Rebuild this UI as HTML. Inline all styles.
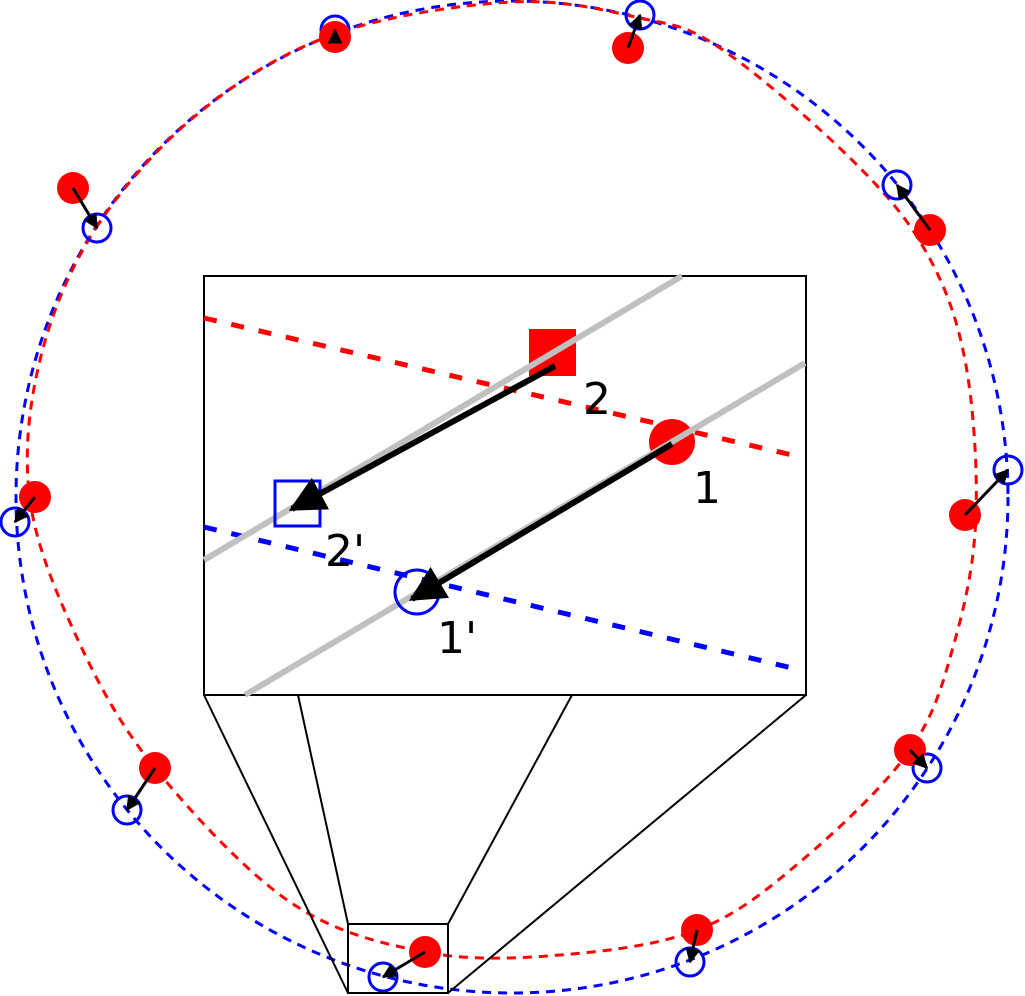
<!DOCTYPE html>
<html><head><meta charset="utf-8"><style>
html,body{margin:0;padding:0;background:#fff;}
svg{display:block;}
text{font-family:"DejaVu Sans","Liberation Sans",sans-serif;font-size:44px;fill:#000;}
</style></head><body>
<svg id="s" width="1025" height="996" viewBox="0 0 1025 996" xmlns="http://www.w3.org/2000/svg">
<defs>
<marker id="ah" viewBox="0 0 10 10" refX="9" refY="5" markerWidth="5" markerHeight="5" orient="auto" markerUnits="strokeWidth">
<path d="M0,0 L10,5 L0,10 z" fill="#000"/></marker>
<marker id="ahb" viewBox="0 0 10 10" refX="9" refY="5" markerWidth="6" markerHeight="6" orient="auto" markerUnits="strokeWidth">
<path d="M0,0 L10,5 L0,10 z" fill="#000"/></marker>
</defs>
<circle cx="512" cy="497" r="496" fill="none" stroke="#00f" stroke-width="3" stroke-dasharray="9 7"/>
<path id="red" fill="none" stroke="#f00" stroke-width="3" stroke-dasharray="9 7"/>
<g id="pts"></g>
<!-- inset -->
<rect x="204" y="276" width="602" height="419" fill="#fff" stroke="#000" stroke-width="2"/>
<line x1="204" y1="318" x2="792" y2="455" stroke="#f00" stroke-width="5" stroke-dasharray="13 15"/>
<line x1="204" y1="527" x2="792" y2="668" stroke="#00f" stroke-width="5" stroke-dasharray="13 15"/>
<rect x="529" y="329" width="47" height="47" fill="#f00"/>
<circle cx="672" cy="442" r="23" fill="#f00"/>
<line x1="245" y1="695" x2="805" y2="363" stroke="#c0c0c0" stroke-width="6"/>
<line x1="204" y1="560" x2="682" y2="276" stroke="#c0c0c0" stroke-width="6"/>
<rect x="275" y="481" width="45" height="45" fill="none" stroke="#00f" stroke-width="3"/>
<circle cx="417" cy="592" r="22" fill="none" stroke="#00f" stroke-width="3"/>
<line x1="555" y1="366" x2="292" y2="509" stroke="#000" stroke-width="6" marker-end="url(#ahb)"/>
<line x1="672" y1="444" x2="412" y2="599" stroke="#000" stroke-width="6" marker-end="url(#ahb)"/>
<text x="583" y="414">2</text>
<text x="693" y="503">1</text>
<text x="325" y="566">2'</text>
<text x="437" y="653">1'</text>
<!-- connectors -->
<line x1="204" y1="695" x2="348" y2="993" stroke="#000" stroke-width="2"/>
<line x1="298" y1="695" x2="348" y2="924" stroke="#000" stroke-width="2"/>
<line x1="572" y1="695" x2="448" y2="924" stroke="#000" stroke-width="2"/>
<line x1="806" y1="695" x2="448" y2="993" stroke="#000" stroke-width="2"/>
<rect x="348" y="924" width="100" height="69" fill="none" stroke="#000" stroke-width="2"/>
</svg>
<script>
(function(){
var R=[[96,228],[200,112],[335,34],[512,2],[640,18],[720,48],[850,158],[925,250],[965,360],[976,515],[955,640],[910,750],[800,862],[697,930],[560,955],[425,952],[290,902],[155,768],[78,640],[30,500],[40,360]];
function cr(p){var n=p.length,d="M"+p[0][0]+","+p[0][1];
for(var i=0;i<n;i++){var p0=p[(i-1+n)%n],p1=p[i],p2=p[(i+1)%n],p3=p[(i+2)%n];
d+=" C"+(p1[0]+(p2[0]-p0[0])/6)+","+(p1[1]+(p2[1]-p0[1])/6)+" "+(p2[0]-(p3[0]-p1[0])/6)+","+(p2[1]-(p3[1]-p1[1])/6)+" "+p2[0]+","+p2[1];}
return d+"Z";}
document.getElementById("red").setAttribute("d",cr(R));
var pairs=[[[628,48],[640,15]],[[930,230],[897,185]],[[965,515],[1008,470]],[[910,750],[927,768]],[[697,930],[690,962]],[[425,952],[383,977]],[[155,768],[127,810]],[[35,497],[15,522]],[[73,188],[97,228]],[[335,37],[335,30]]];
var ns="http://www.w3.org/2000/svg",g=document.getElementById("pts");
function el(t,a){var e=document.createElementNS(ns,t);for(var k in a)e.setAttribute(k,a[k]);g.appendChild(e);}
pairs.forEach(function(p){
el("circle",{cx:p[1][0],cy:p[1][1],r:14,fill:"none",stroke:"#00f","stroke-width":3});
el("circle",{cx:p[0][0],cy:p[0][1],r:16,fill:"#f00"});
el("line",{x1:p[0][0],y1:p[0][1],x2:p[1][0],y2:p[1][1],stroke:"#000","stroke-width":3,"marker-end":"url(#ah)"});
});
})();
</script>
</body></html>
